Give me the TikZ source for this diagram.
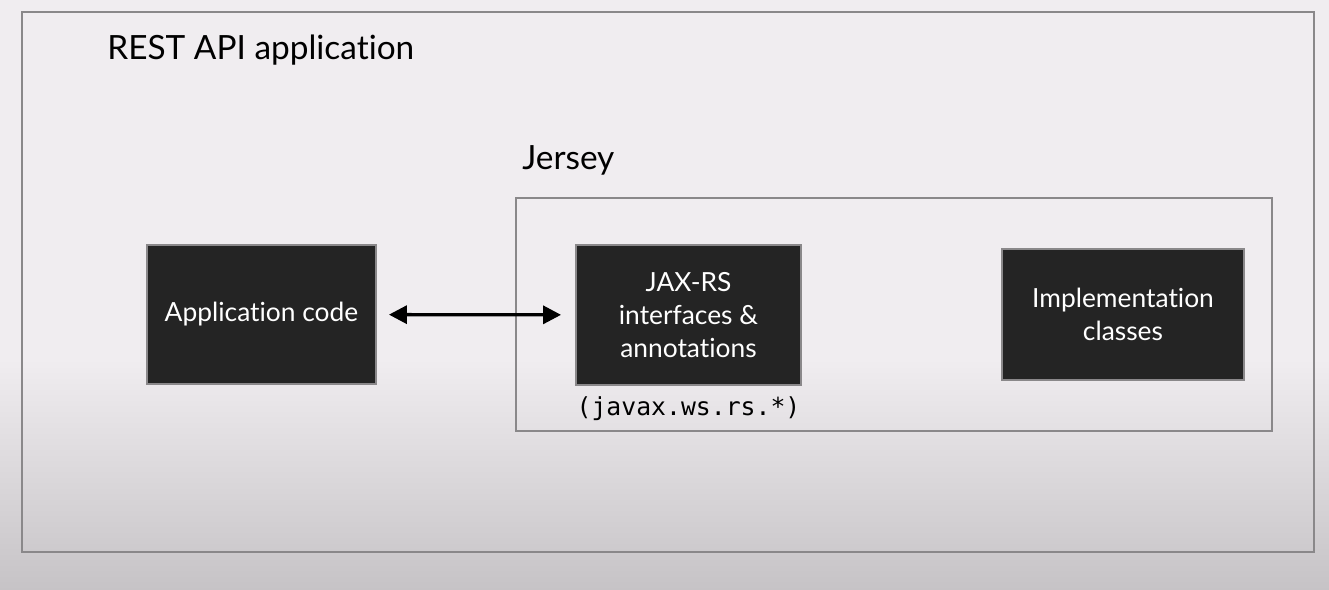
\documentclass[tikz,border=0pt]{standalone}
\usepackage{fontspec}
\setmainfont{Lato}[Ligatures=NoCommon]
\setmonofont{DejaVu Sans Mono}
\usetikzlibrary{arrows.meta,positioning}
\definecolor{paper}{HTML}{F0EDF0}
\definecolor{paperlow}{HTML}{C6C3C6}
\definecolor{frame}{HTML}{8A888A}
\definecolor{boxfill}{HTML}{242424}

\begin{document}
\begin{tikzpicture}[
    x=0.02cm, y=-0.02cm,
    frame/.style={draw=frame, line width=1.3pt},
    box/.style={draw=frame, line width=1.1pt, fill=boxfill, text=white, align=center, font=\fontsize{15}{19}\selectfont, inner sep=0pt},
    title/.style={anchor=west, font=\fontsize{19}{23}\selectfont, inner sep=0pt},
    arrow/.style={{Triangle[length=3.6mm, width=3.6mm]}-{Triangle[length=3.6mm, width=3.6mm]}, line width=1.9pt, draw=black}
]
% background
\useasboundingbox (0,0) rectangle (1329,590);
\fill[paper] (0,0) rectangle (1329,360);
\shade[top color=paper, bottom color=paperlow] (0,359) rectangle (1329,590);

% frames
\draw[frame] (22,12) rectangle (1314,552);
\draw[frame] (516,198) rectangle (1272,431);
\node[title] (restlabel) at (107,50) {REST API application};
\node[title] (jerseylabel) at (522,160) {Jersey};

% boxes
\node[box, minimum width=4.58cm, minimum height=2.78cm] (app) at (261.5,314.5) {Application code};
\node[box, minimum width=4.5cm, minimum height=2.8cm] (jax) at (688.5,315) {JAX-RS\\interfaces \&\\annotations};
\node[box, minimum width=4.84cm, minimum height=2.62cm] (impl) at (1123,314.5) {Implementation\\classes};
\node[below=2mm of jax, inner sep=0pt, font=\ttfamily\fontsize{14.1}{16}\selectfont] (pkg) {(javax.ws.rs.*)};

\draw[arrow, shorten <=0.24cm, shorten >=0.28cm] (app) -- (jax);
\end{tikzpicture}
\end{document}
